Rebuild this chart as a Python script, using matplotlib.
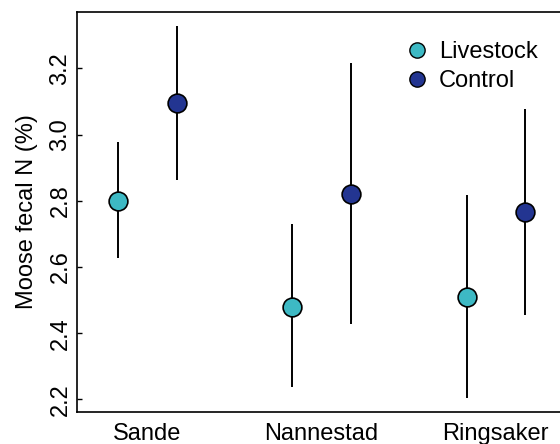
import numpy as np
import matplotlib
matplotlib.use("Agg")
import matplotlib.pyplot as plt
from matplotlib.lines import Line2D

plt.rcParams["font.family"] = ["Liberation Sans", "DejaVu Sans"]

# Data
sites = ["Sande", "Nannestad", "Ringsaker"]
livestock_mean = [2.80, 2.48, 2.51]
livestock_low = [2.626, 2.236, 2.205]
livestock_high = [2.978, 2.730, 2.817]
control_mean = [3.094, 2.821, 2.766]
control_low = [2.863, 2.427, 2.455]
control_high = [3.328, 3.215, 3.076]
yticks = [2.2, 2.4, 2.6, 2.8, 3.0, 3.2]

livestock_col = "#3DB9C4"
control_col = "#233591"
fs = 17

fig = plt.figure(figsize=(5.6, 4.44), dpi=100)
ax = fig.add_axes([77 / 560, 32 / 444, (560 - 77 + 6) / 560, 400 / 444])

x = np.arange(1, len(sites) + 1)
off = 0.168

def draw_group(xpos, mean, low, high, col):
    mean = np.array(mean)
    yerr = [mean - np.array(low), np.array(high) - mean]
    ax.errorbar(xpos, mean, yerr=yerr, fmt="none", ecolor="black",
                elinewidth=1.4, capsize=0, zorder=2)
    ax.plot(xpos, mean, "o", color=col, markersize=13.5,
            markeredgecolor="black", markeredgewidth=1.2, zorder=3)

draw_group(x - off, livestock_mean, livestock_low, livestock_high, livestock_col)
draw_group(x + off, control_mean, control_low, control_high, control_col)

ax.set_xlim(0.595, 3.403)
ax.set_ylim(2.162, 3.37)
ax.set_xticks(x)
ax.set_xticklabels(sites, fontsize=fs)
ax.set_yticks(yticks)
ax.set_yticklabels([f"{v:.1f}" for v in yticks], fontsize=fs,
                   rotation=90, va="center")
ax.tick_params(axis="x", length=0, pad=8)
ax.tick_params(axis="y", direction="in", length=3.5, width=1, pad=4)
ax.set_ylabel("Moose fecal N (%)", fontsize=fs, labelpad=8)
for s in ax.spines.values():
    s.set_linewidth(1.2)
ax.spines["right"].set_visible(False)

handles = [
    Line2D([], [], marker="o", linestyle="none", color=livestock_col,
           markeredgecolor="black", markeredgewidth=1.0, markersize=11),
    Line2D([], [], marker="o", linestyle="none", color=control_col,
           markeredgecolor="black", markeredgewidth=1.0, markersize=11),
]
ax.legend(handles, ["Livestock", "Control"], loc="upper left",
          bbox_to_anchor=(405 / 560, 1 - 41 / 444), bbox_transform=fig.transFigure,
          frameon=False, fontsize=fs, handlelength=1.0, handletextpad=0.45,
          labelspacing=0.3, borderpad=0, borderaxespad=0)

fig.savefig("out.png", dpi=100)
